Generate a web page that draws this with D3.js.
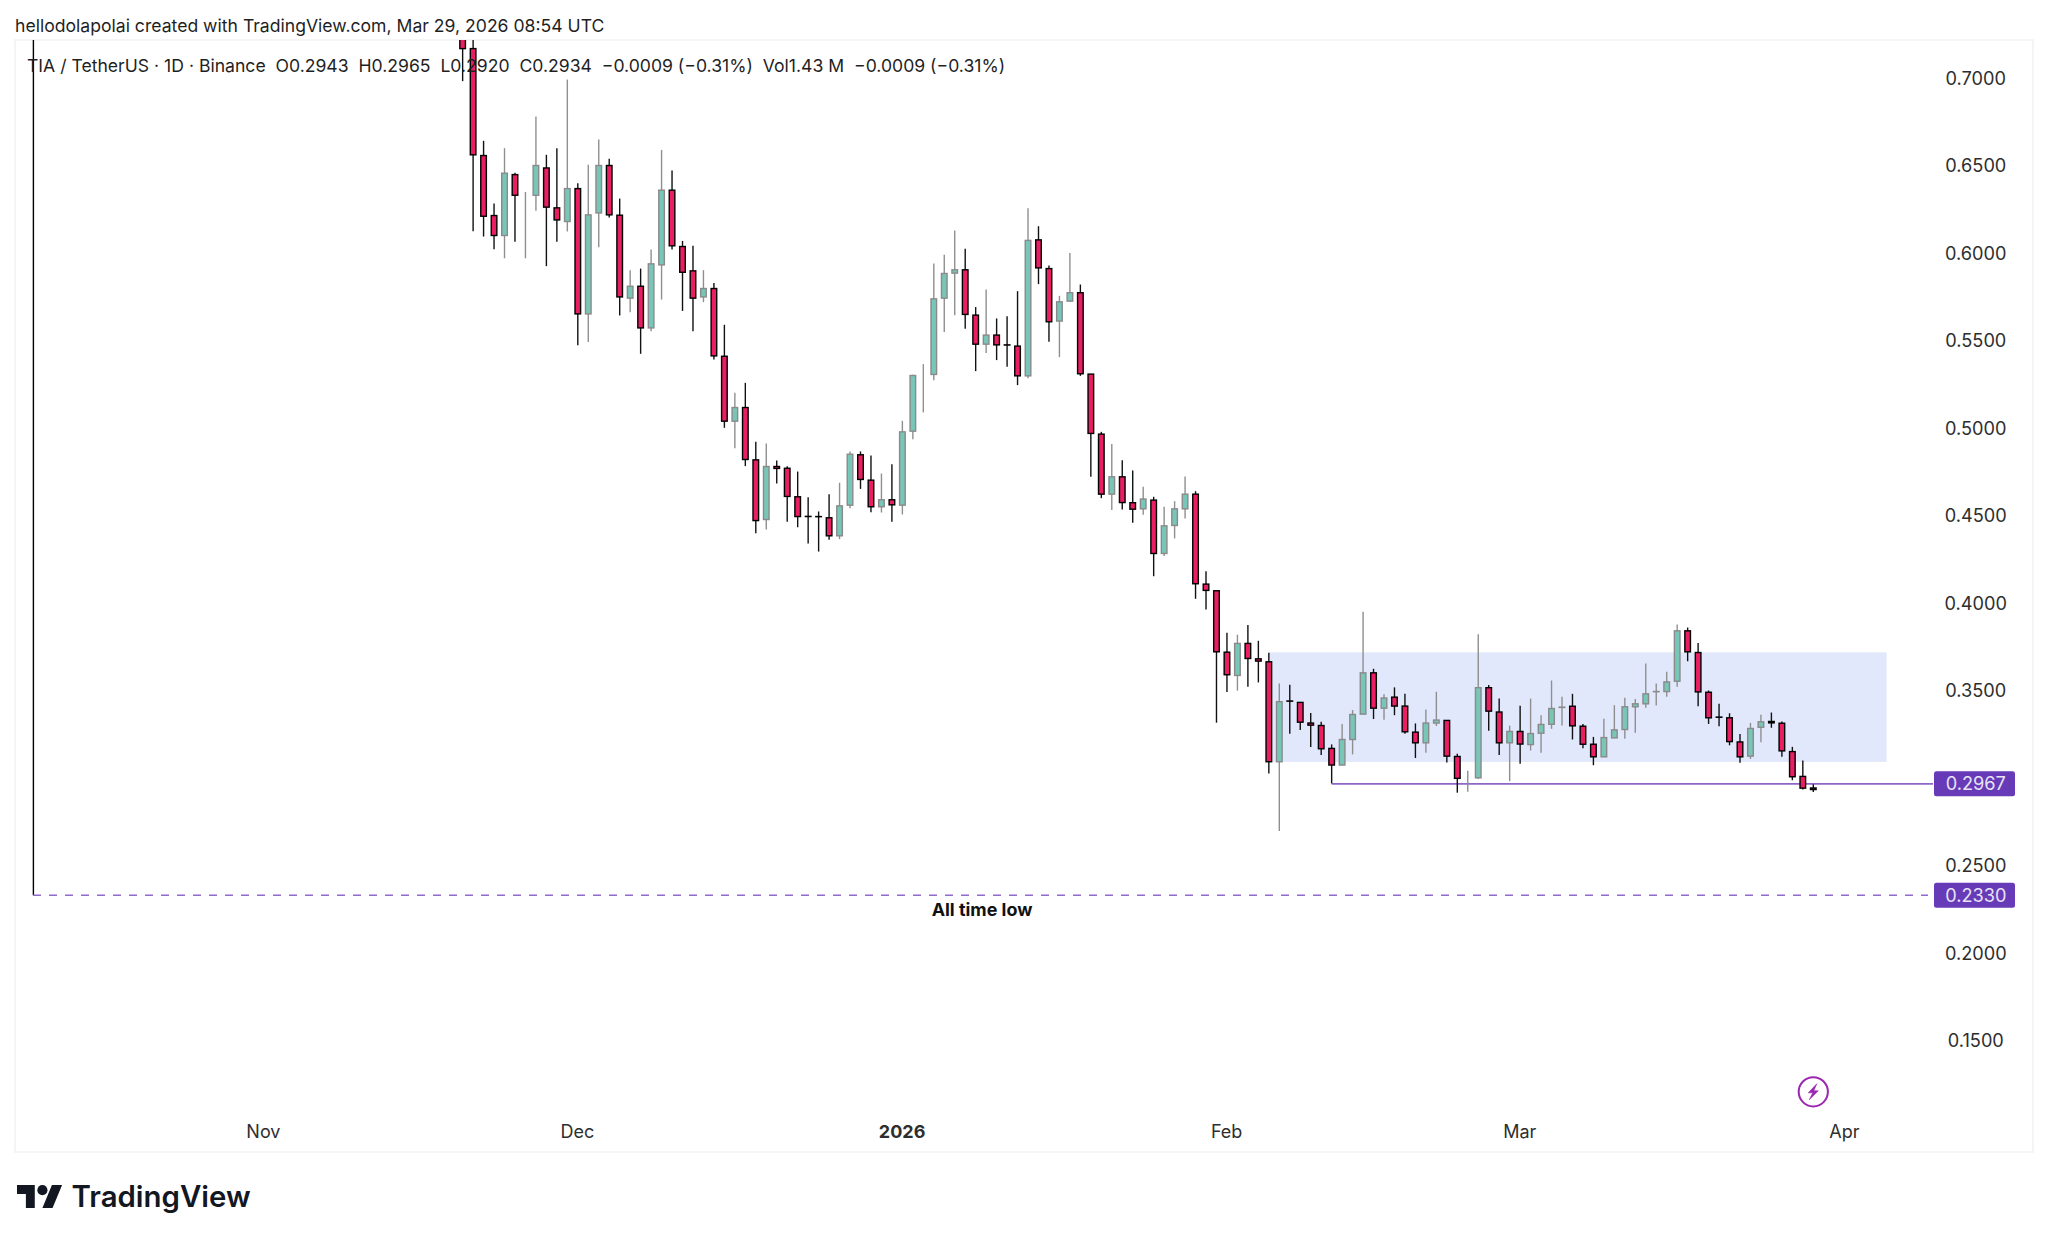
<!DOCTYPE html>
<html><head><meta charset="utf-8">
<script src="https://cdn.jsdelivr.net/npm/d3@7"></script>
<style>
html,body{margin:0;padding:0;background:#fff}
svg{display:block}
text{font-family:Inter,"Noto Sans",sans-serif;white-space:pre}
</style></head><body><svg id="c" width="2048" height="1241"></svg>
<script>
const firstDay = "2025-11-20";
const opens = [
0.7300,0.7168,0.6557,0.6214,0.6100,0.6448,0.6330,0.6330,0.6486,0.6258,
0.6180,0.6368,0.5652,0.6229,0.6500,0.6216,0.5742,0.5810,0.5572,0.5932,
0.6359,0.6037,0.5898,0.5749,0.5797,0.5410,0.5039,0.5117,0.4818,0.4477,
0.4780,0.4770,0.4607,0.4495,0.4494,0.4487,0.4384,0.4559,0.4847,0.4702,
0.4550,0.4590,0.4559,0.4982,0.5312,0.5306,0.5742,0.5885,0.5904,0.5645,
0.5479,0.5531,0.5475,0.5468,0.5298,0.6075,0.5911,0.5611,0.5725,0.5773,
0.5308,0.4965,0.4622,0.4721,0.4573,0.4538,0.4588,0.4283,0.4443,0.4538,
0.4622,0.4108,0.4070,0.3719,0.3586,0.3769,0.3681,0.3664,0.3093,0.3440,
0.3432,0.3314,0.3300,0.3169,0.3074,0.3220,0.3365,0.3601,0.3399,0.3462,
0.3411,0.3262,0.3201,0.3314,0.3329,0.3123,0.3005,0.3001,0.3516,0.3377,
0.3201,0.3266,0.3191,0.3256,0.3307,0.3403,0.3410,0.3296,0.3193,0.3121,
0.3229,0.3277,0.3407,0.3424,0.3493,0.3494,0.3553,0.3841,0.3717,0.3490,
0.3348,0.3344,0.3206,0.3125,0.3290,0.3323,0.3313,0.3151,0.3009,0.2943];
const highs = [
0.7400,0.7300,0.6641,0.6283,0.6599,0.6458,0.6349,0.6780,0.6561,0.6599,
0.6991,0.6399,0.6504,0.6648,0.6538,0.6311,0.5902,0.5911,0.6020,0.6589,
0.6471,0.6069,0.6041,0.5902,0.5829,0.5590,0.5201,0.5258,0.4921,0.4911,
0.4814,0.4782,0.4751,0.4605,0.4523,0.4622,0.4687,0.4866,0.4866,0.4843,
0.4740,0.4793,0.5041,0.5304,0.5365,0.5940,0.5990,0.6129,0.6024,0.5691,
0.5792,0.5626,0.5639,0.5782,0.6256,0.6153,0.5929,0.5755,0.6000,0.5820,
0.5308,0.4978,0.4908,0.4816,0.4757,0.4664,0.4607,0.4550,0.4582,0.4723,
0.4639,0.4182,0.4070,0.3830,0.3819,0.3874,0.3784,0.3716,0.3540,0.3533,
0.3432,0.3371,0.3321,0.3192,0.3308,0.3388,0.3950,0.3624,0.3478,0.3518,
0.3481,0.3312,0.3392,0.3493,0.3329,0.3139,0.3041,0.3822,0.3531,0.3455,
0.3299,0.3413,0.3454,0.3359,0.3557,0.3464,0.3481,0.3309,0.3235,0.3338,
0.3416,0.3458,0.3452,0.3654,0.3540,0.3607,0.3877,0.3860,0.3772,0.3500,
0.3424,0.3370,0.3252,0.3315,0.3361,0.3374,0.3323,0.3178,0.3100,0.2965];
const lows = [
0.6982,0.6125,0.6094,0.6022,0.5970,0.6064,0.5970,0.6241,0.5925,0.6064,
0.6123,0.5473,0.5492,0.6033,0.6203,0.5643,0.5662,0.5424,0.5553,0.5734,
0.6020,0.5669,0.5553,0.5719,0.5391,0.5001,0.4885,0.4782,0.4399,0.4420,
0.4683,0.4464,0.4433,0.4340,0.4294,0.4361,0.4365,0.4542,0.4652,0.4519,
0.4517,0.4464,0.4506,0.4936,0.5089,0.5273,0.5548,0.5645,0.5567,0.5325,
0.5428,0.5388,0.5350,0.5245,0.5285,0.5822,0.5493,0.5405,0.5721,0.5298,
0.4721,0.4599,0.4531,0.4534,0.4458,0.4504,0.4153,0.4268,0.4369,0.4483,
0.4024,0.3963,0.3316,0.3491,0.3499,0.3521,0.3546,0.3026,0.2697,0.3253,
0.3274,0.3177,0.3131,0.2969,0.3074,0.3135,0.3365,0.3337,0.3333,0.3359,
0.3253,0.3114,0.3144,0.3297,0.3089,0.2916,0.2921,0.2996,0.3270,0.3131,
0.2982,0.3081,0.3157,0.3144,0.3281,0.3300,0.3220,0.3170,0.3073,0.3121,
0.3229,0.3224,0.3258,0.3401,0.3414,0.3464,0.3521,0.3667,0.3410,0.3309,
0.3296,0.3187,0.3087,0.3109,0.3205,0.3287,0.3121,0.2987,0.2934,0.2920];
const closes = [
0.7168,0.6561,0.6210,0.6100,0.6456,0.6330,0.6330,0.6500,0.6262,0.6189,
0.6368,0.5652,0.6218,0.6500,0.6218,0.5749,0.5810,0.5572,0.5938,0.6359,
0.6041,0.5890,0.5742,0.5797,0.5412,0.5039,0.5117,0.4820,0.4471,0.4780,
0.4769,0.4609,0.4494,0.4494,0.4493,0.4384,0.4555,0.4850,0.4706,0.4550,
0.4590,0.4561,0.4978,0.5300,0.5312,0.5738,0.5883,0.5904,0.5649,0.5479,
0.5531,0.5475,0.5474,0.5298,0.6072,0.5915,0.5607,0.5721,0.5773,0.5310,
0.4969,0.4622,0.4721,0.4574,0.4536,0.4594,0.4283,0.4441,0.4538,0.4622,
0.4110,0.4072,0.3721,0.3590,0.3769,0.3683,0.3668,0.3093,0.3436,0.3439,
0.3319,0.3302,0.3167,0.3074,0.3220,0.3363,0.3601,0.3399,0.3457,0.3411,
0.3264,0.3201,0.3314,0.3331,0.3125,0.2998,0.3005,0.3516,0.3382,0.3201,
0.3266,0.3194,0.3254,0.3306,0.3397,0.3405,0.3298,0.3193,0.3121,0.3231,
0.3275,0.3407,0.3424,0.3481,0.3494,0.3549,0.3841,0.3721,0.3492,0.3344,
0.3347,0.3208,0.3121,0.3283,0.3321,0.3315,0.3155,0.3007,0.2942,0.2934];
const priceTicks = [0.70,0.65,0.60,0.55,0.50,0.45,0.40,0.35,0.25,0.20,0.15];
const timeTicks = ["2025-11-01","2025-12-01","2026-01-01","2026-02-01","2026-03-01","2026-04-01"];
const timeLabels = ["Nov","Dec","2026","Feb","Mar","Apr"];
const supportLevel = 0.2967, athLow = 0.2330;
const rangeBox = {from:"2026-02-05", to:"2026-04-05", top:0.3718, bottom:0.3092};
const supportStart = "2026-02-11";
const headerText = "hellodolapolai created with TradingView.com, Mar 29, 2026 08:54 UTC";
const legendText = "TIA / TetherUS · 1D · Binance  O0.2943  H0.2965  L0.2920  C0.2934  −0.0009 (−0.31%)  Vol1.43 M  −0.0009 (−0.31%)";

const svg = d3.select("#c");
const day = s => new Date(s+"T00:00:00Z");
const x = d3.scaleUtc().domain([day("2025-11-01"),day("2026-04-01")]).range([263.7,1844.7]);
const y = d3.scaleLinear().domain([0.15,0.70]).range([1040.5,78]);
const pane = {l:15,r:2033,t:40,b:1152};
const start = day(firstDay);
const candles = opens.map((o,i)=>({d:d3.utcDay.offset(start,i),o,h:highs[i],l:lows[i],c:closes[i]}));

svg.append("defs").append("clipPath").attr("id","pane").append("rect")
  .attr("x",pane.l).attr("y",pane.t).attr("width",pane.r-pane.l).attr("height",pane.b-pane.t);

svg.append("text").attr("x",15).attr("y",32).attr("font-size",17.6).attr("fill","#1f1f1f").text(headerText);
svg.append("rect").attr("x",pane.l).attr("y",pane.t).attr("width",pane.r-pane.l).attr("height",pane.b-pane.t)
  .attr("fill","#fff").attr("stroke","#f3f3f3").attr("stroke-width",1.6);

const g = svg.append("g").attr("clip-path","url(#pane)");
g.append("rect").attr("x",x(day(rangeBox.from))).attr("width",x(day(rangeBox.to))-x(day(rangeBox.from)))
  .attr("y",y(rangeBox.top)).attr("height",y(rangeBox.bottom)-y(rangeBox.top)).attr("fill","#e2e8fc");
g.append("line").attr("x1",33.4).attr("x2",33.4).attr("y1",pane.t).attr("y2",y(athLow)).attr("stroke","#000").attr("stroke-width",1.4);
g.append("line").attr("x1",33).attr("x2",1928).attr("y1",y(athLow)).attr("y2",y(athLow))
  .attr("stroke","#8f68d0").attr("stroke-width",1.4).attr("stroke-dasharray","8 8");
g.append("line").attr("x1",x(day(supportStart))).attr("x2",1933).attr("y1",y(supportLevel)).attr("y2",y(supportLevel))
  .attr("stroke","#8e66c8").attr("stroke-width",1.7);

const cg = g.selectAll("g.c").data(candles).join("g").attr("class","c");
const isUp = d => d.c>=d.o;
cg.append("line").attr("x1",d=>x(d.d)).attr("x2",d=>x(d.d)).attr("y1",d=>y(d.h)).attr("y2",d=>y(d.l))
  .attr("stroke",d=>isUp(d)?"#8f8f8f":"#111").attr("stroke-width",1.4);
cg.append("rect").attr("x",d=>x(d.d)-2.8).attr("width",5.6)
  .attr("y",d=>y(Math.max(d.o,d.c))).attr("height",d=>Math.abs(y(d.o)-y(d.c)))
  .attr("fill",d=>isUp(d)?"#78c6b8":"#e91e63").attr("stroke",d=>isUp(d)?"#8a8a8a":"#000").attr("stroke-width",1.4);

svg.append("text").attr("x",27).attr("y",72).attr("font-size",17.6).attr("fill","#1f1f1f").text(legendText);
svg.append("text").attr("x",982).attr("y",916).attr("text-anchor","middle").attr("font-size",17.9).attr("font-weight",700).attr("fill","#111").text("All time low");

const yAxis = d3.axisRight(y).tickValues(priceTicks).tickSize(0).tickPadding(0).tickFormat(d3.format(".4f"));
const ya = svg.append("g").attr("transform","translate(1975.8,0)").call(yAxis);
ya.select(".domain").remove();
ya.selectAll("text").attr("text-anchor","middle").attr("font-size",18.2).attr("fill","#2e2e2e").attr("font-family",null).attr("dy","0.33em");

const xAxis = d3.axisBottom(x).tickValues(timeTicks.map(day)).tickSize(0).tickPadding(0).tickFormat((d,i)=>timeLabels[i]);
const xa = svg.append("g").attr("transform","translate(-0.8,1131.5)").call(xAxis);
xa.select(".domain").remove();
xa.selectAll("text").attr("font-size",18).attr("fill","#2e2e2e").attr("font-family",null).attr("dy","0.35em").attr("y",0)
  .attr("font-weight",(d,i)=>timeLabels[i]==="2026"?700:400);

[[supportLevel],[athLow]].forEach(([v])=>{
  svg.append("rect").attr("x",1934).attr("y",y(v)-12.5).attr("width",81).attr("height",25).attr("rx",2.5).attr("fill","#673ab7");
  svg.append("text").attr("x",1975.8).attr("y",y(v)).attr("dy","0.35em").attr("text-anchor","middle").attr("font-size",18.2).attr("fill","#e8e3f5").text(d3.format(".4f")(v));
});

const ic = svg.append("g").attr("transform",`translate(${x(day("2026-03-29"))},1091.8)`);
ic.append("circle").attr("r",14.6).attr("fill","#fff").attr("stroke","#9c27b0").attr("stroke-width",2);
ic.append("path").attr("d","M3.5,-8 L-5,1 L-0.5,1 L-4,8 L5,-1 L0.5,-1 Z").attr("fill","#9c27b0").attr("stroke","#9c27b0").attr("stroke-width",0.6);

const logo = svg.append("g").attr("transform","translate(17,1180) scale(1.27)").attr("fill","#131722");
logo.append("path").attr("d","M14 22H7V11H0V4h14v18zM28 22h-8l7.5-18h8L28 22z");
logo.append("circle").attr("cx",20).attr("cy",8).attr("r",4);
svg.append("text").attr("x",71.5).attr("y",1206.5).attr("font-size",29.4).attr("font-weight",600).attr("fill","#131722").text("TradingView");
</script></body></html>
